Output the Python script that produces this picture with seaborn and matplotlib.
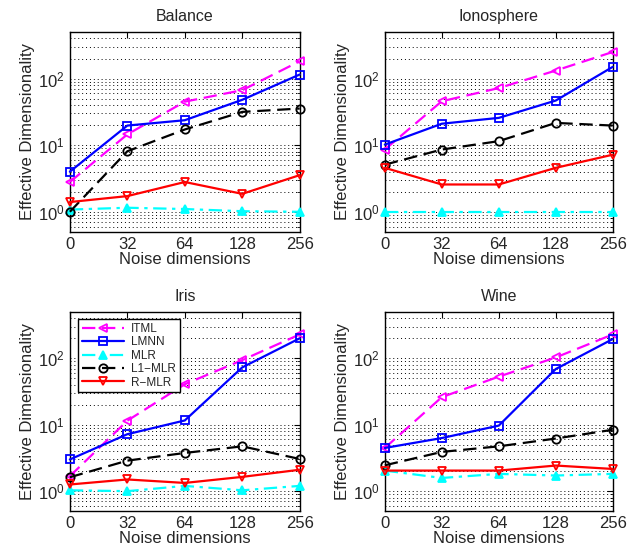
import numpy as np
import pandas as pd
import matplotlib
matplotlib.use("Agg")
import matplotlib.pyplot as plt
import seaborn as sns

# --- data ---
noise_dims = [0, 32, 64, 128, 256]
methods = ["ITML", "LMNN", "MLR", "L1\u2212MLR", "R\u2212MLR"]
datasets = ["Balance", "Ionosphere", "Iris", "Wine"]

balance_itml = [2.8, 14.5, 45, 67, 182]
balance_lmnn = [4.0, 19.7, 23.7, 48, 115]
balance_mlr = [1.08, 1.15, 1.1, 1.02, 1.0]
balance_l1 = [1.0, 8.1, 17.2, 31.6, 35.5]
balance_r = [1.4, 1.72, 2.8, 1.86, 3.55]

iono_itml = [8.6, 45.7, 72, 132, 251]
iono_lmnn = [10.2, 21, 25.7, 46.8, 150]
iono_mlr = [1.0, 1.0, 1.0, 1.0, 1.0]
iono_l1 = [5.1, 8.6, 11.5, 21.6, 19.7]
iono_r = [4.57, 2.57, 2.57, 4.57, 7.2]

iris_itml = [1.68, 11.5, 40.7, 94, 229]
iris_lmnn = [3.0, 7.2, 11.6, 73, 200]
iris_mlr = [1.03, 1.0, 1.2, 1.03, 1.2]
iris_l1 = [1.62, 2.88, 3.76, 4.73, 3.05]
iris_r = [1.26, 1.5, 1.33, 1.64, 2.1]

wine_itml = [4.47, 26, 53, 103, 229]
wine_lmnn = [4.47, 6.3, 9.7, 69, 195]
wine_mlr = [2.04, 1.58, 1.82, 1.72, 1.82]
wine_l1 = [2.45, 3.9, 4.73, 6.2, 8.4]
wine_r = [2.04, 2.04, 2.04, 2.43, 2.16]

values = {
    "Balance": [balance_itml, balance_lmnn, balance_mlr, balance_l1, balance_r],
    "Ionosphere": [iono_itml, iono_lmnn, iono_mlr, iono_l1, iono_r],
    "Iris": [iris_itml, iris_lmnn, iris_mlr, iris_l1, iris_r],
    "Wine": [wine_itml, wine_lmnn, wine_mlr, wine_l1, wine_r],
}

# --- styles ---
colors = ["#ff00ff", "#0000ff", "#00ffff", "#000000", "#ff0000"]
markers = ["<", "s", "^", "o", "v"]
linestyles = [(0, (6, 3)), "-", (0, (6, 2.5, 1.5, 2.5)), (0, (6, 3)), "-"]
filled = [False, False, True, False, False]

sns.set_style("white")
plt.rcParams["font.family"] = ["Liberation Sans", "DejaVu Sans"]
plt.rcParams["mathtext.fontset"] = "custom"
plt.rcParams["mathtext.rm"] = "Liberation Sans"

fig = plt.figure(figsize=(6.35, 5.52), dpi=100)
positions = [
    [0.110, 0.580, 0.362, 0.362],
    [0.606, 0.580, 0.359, 0.362],
    [0.110, 0.074, 0.362, 0.361],
    [0.606, 0.074, 0.359, 0.361],
]

x = np.arange(len(noise_dims))
for name, pos in zip(datasets, positions):
    ax = fig.add_axes(pos)
    rows = []
    for m, series in zip(methods, values[name]):
        for xi, v in zip(x, series):
            rows.append({"pos": xi, "value": v, "method": m})
    df = pd.DataFrame(rows)
    for i, m in enumerate(methods):
        sub = df[df["method"] == m]
        sns.lineplot(data=sub, x="pos", y="value", ax=ax, color=colors[i],
                     linestyle=linestyles[i], linewidth=1.6,
                     marker=markers[i], markersize=6,
                     markeredgecolor=colors[i], markeredgewidth=1.3,
                     markerfacecolor=colors[i] if filled[i] else "none",
                     label=m, legend=False, clip_on=False, zorder=3)
    ax.set_yscale("log")
    ax.set_ylim(0.5, 500)
    ax.set_xlim(0, len(noise_dims) - 1)
    ax.set_xticks(x)
    ax.set_xticklabels([str(n) for n in noise_dims])
    ax.set_xlabel("Noise dimensions", fontsize=12, labelpad=0)
    ax.set_ylabel("Effective Dimensionality", fontsize=12, labelpad=2)
    ax.set_title(name, fontsize=11.5, pad=8)
    ax.tick_params(axis="both", which="both", direction="in", top=True,
                   right=True, labelsize=12, color="black")
    ax.tick_params(axis="both", which="major", length=4)
    ax.tick_params(axis="y", which="minor", length=2)
    ax.yaxis.grid(True, which="both", linestyle=(0, (1, 3)), color="black",
                  linewidth=0.7)
    ax.xaxis.grid(False)
    for s in ax.spines.values():
        s.set_visible(True)
        s.set_color("black")
        s.set_linewidth(1.0)
    ax.set_axisbelow(True)
    if name == "Iris":
        leg = ax.legend(loc="upper left", fontsize=8.5, frameon=True,
                        fancybox=False, edgecolor="black", framealpha=1,
                        handlelength=3.6, borderpad=0.3, labelspacing=0.12,
                        handletextpad=0.6, borderaxespad=0.3,
                        bbox_to_anchor=(0.02, 0.98))
        leg.get_frame().set_linewidth(1.0)

fig.savefig("out.png", dpi=100)
